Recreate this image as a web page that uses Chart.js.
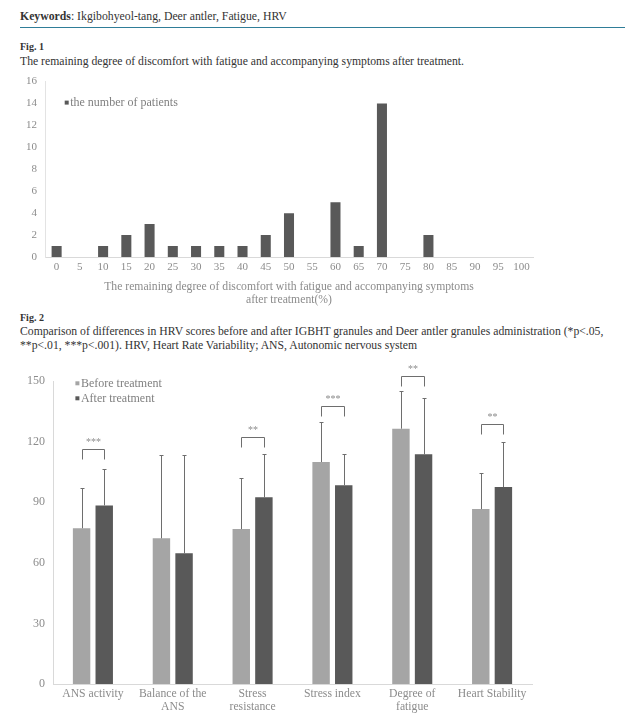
<!DOCTYPE html>
<html>
<head>
<meta charset="utf-8">
<script src="https://cdn.jsdelivr.net/npm/chart.js@4.4.0/dist/chart.umd.min.js"></script>
<style>
    body { margin: 0; width: 625px; height: 721px; background: #fff; position: relative; overflow: hidden; font-family: "Liberation Serif", serif; color: #333; }
    .txt { position: absolute; left: 20px; white-space: nowrap; line-height: 14px; }
    .kw { top: 10px; font-size: 11.75px; }
    .figno { font-size: 10px; font-weight: bold; }
    .cap { font-size: 11.7px; }
    .rule { position: absolute; left: 20px; right: 0; top: 27px; border-top: 1.5px solid #2f7d98; }
    .chartbox { position: absolute; left: 0; }
</style>
</head>
<body>

<div class="txt kw"><b>Keywords</b>: Ikgibohyeol-tang, Deer antler, Fatigue, HRV</div>
<div class="rule"></div>
<div class="txt figno" style="top:40px">Fig. 1</div>
<div class="txt cap" style="top:55px">The remaining degree of discomfort with fatigue and accompanying symptoms after treatment.</div>

<div class="chartbox" style="top:67px"><canvas id="patientsChart" width="625" height="243"></canvas></div>

<div class="txt figno" style="top:311px">Fig. 2</div>
<div class="txt cap" style="top:325px">Comparison of differences in HRV scores before and after IGBHT granules and Deer antler granules administration (*p&lt;.05,</div>
<div class="txt cap" style="top:339px">**p&lt;.01, ***p&lt;.001). HRV, Heart Rate Variability; ANS, Autonomic nervous system</div>

<div class="chartbox" style="top:360px"><canvas id="hrvChart" width="625" height="361"></canvas></div>

<script>
/* FIG 1 DATA */
const pctLabels = ['0', '5', '10', '15', '20', '25', '30', '35', '40', '45', '50', '55', '60', '65', '70', '75', '80', '85', '90', '95', '100'];
const patientCounts = [1, 0, 1, 2, 3, 1, 1, 1, 1, 2, 4, 0, 5, 1, 14, 0, 2, 0, 0, 0, 0];

/* FIG 2 DATA */
const hrvLabels = ['ANS activity', ['Balance of the', 'ANS'], ['Stress', 'resistance'], 'Stress index', ['Degree of', 'fatigue'], 'Heart Stability'];
const beforeScores = [77.1, 72.1, 76.7, 109.9, 126.4, 86.6];
const afterScores = [88.4, 64.7, 92.4, 98.4, 113.7, 97.5];
const beforeSD = [19.8, 41.1, 25.1, 19.6, 18.5, 18.0];
const afterSD = [17.9, 48.5, 21.3, 15.6, 27.7, 22.4];
const sigMarks = ['***', '', '**', '***', '**', '**'];
const sigHeights = [116.2, null, 122.4, 137.8, 152.6, 128.6]; // bracket top, in score units

const tickColor = '#8c8c8c';
const axisColor = '#d9d9d9';
const serif = '"Liberation Serif", serif';

// legend drawn inside the plot area, from the dataset labels/colors
const insideLegend = {
    id: 'insideLegend',
    afterDraw(chart, args, opts) {
        const ctx = chart.ctx;
        const area = chart.chartArea;
        ctx.save();
        ctx.font = opts.fontSize + 'px ' + serif;
        ctx.textBaseline = 'middle';
        chart.data.datasets.forEach((ds, i) => {
            const cx = area.left + opts.x;
            const cy = area.top + opts.y + i * opts.gap;
            ctx.fillStyle = ds.backgroundColor;
            ctx.fillRect(cx - opts.box / 2, cy - opts.box / 2, opts.box, opts.box);
            ctx.fillStyle = '#7f7f7f';
            ctx.fillText(ds.label, cx + opts.box / 2 + 1.5, cy + 0.5);
        });
        ctx.restore();
    }
};

// one-sided error bars (mean + SD)
const errorBars = {
    id: 'errorBars',
    afterDatasetsDraw(chart) {
        const ctx = chart.ctx;
        const yScale = chart.scales.y;
        const sds = [beforeSD, afterSD];
        ctx.save();
        ctx.strokeStyle = '#6e6e6e';
        ctx.lineWidth = 1;
        chart.data.datasets.forEach((ds, i) => {
            chart.getDatasetMeta(i).data.forEach((bar, j) => {
                const x = Math.round(bar.x) + 0.5;
                const top = Math.round(yScale.getPixelForValue(ds.data[j] + sds[i][j])) + 0.5;
                ctx.beginPath();
                ctx.moveTo(x, bar.y);
                ctx.lineTo(x, top);
                ctx.moveTo(x - 2, top);
                ctx.lineTo(x + 2, top);
                ctx.stroke();
            });
        });
        ctx.restore();
    }
};

// significance brackets with stars
const sigBrackets = {
    id: 'sigBrackets',
    afterDraw(chart) {
        const ctx = chart.ctx;
        const yScale = chart.scales.y;
        const before = chart.getDatasetMeta(0).data;
        const after = chart.getDatasetMeta(1).data;
        ctx.save();
        ctx.strokeStyle = '#6e6e6e';
        ctx.fillStyle = '#8c8c8c';
        ctx.lineWidth = 1;
        ctx.font = '10px ' + serif;
        ctx.textAlign = 'center';
        ctx.textBaseline = 'middle';
        sigMarks.forEach((mark, j) => {
            if (!mark) return;
            const x1 = Math.round(before[j].x) + 0.5;
            const x2 = Math.round(after[j].x) + 0.5;
            const top = Math.round(yScale.getPixelForValue(sigHeights[j])) + 0.5;
            ctx.beginPath();
            ctx.moveTo(x1, top + 10);
            ctx.lineTo(x1, top);
            ctx.lineTo(x2, top);
            ctx.lineTo(x2, top + 10);
            ctx.stroke();
            ctx.fillText(mark, (x1 + x2) / 2, top - 7);
        });
        ctx.restore();
    }
};

/* FIG 1 CHART */
function initPatientsChart() {
    const ctx = document.getElementById('patientsChart').getContext('2d');
    new Chart(ctx, {
        type: 'bar',
        data: {
            labels: pctLabels,
            datasets: [{
                label: 'the number of patients',
                data: patientCounts,
                backgroundColor: '#595959',
                barPercentage: 0.9,
                categoryPercentage: 0.48,
            }]
        },
        options: {
            responsive: false,
            animation: false,
            layout: { padding: { top: 0, right: 92, left: 0, bottom: 0 } },
            plugins: {
                legend: { display: false },
                tooltip: { enabled: false },
                insideLegend: { x: 21.7, y: 21, gap: 15, box: 4, fontSize: 12 },
            },
            scales: {
                x: {
                    grid: { display: false, drawTicks: false },
                    border: { display: true, color: axisColor },
                    ticks: { color: tickColor, font: { family: serif, size: 11 }, padding: 4, autoSkip: false, maxRotation: 0 },
                    title: {
                        display: true,
                        text: ['The remaining degree of discomfort with fatigue and accompanying symptoms', 'after treatment(%)'],
                        color: tickColor,
                        font: { family: serif, size: 11.7, lineHeight: 1.13 },
                        padding: { top: 0, bottom: 3 },
                    },
                    afterFit(scale) { scale.height = 53; },
                },
                y: {
                    min: 0,
                    max: 16,
                    grid: { display: false, drawTicks: false },
                    border: { display: true, color: '#e3e3e3' },
                    ticks: { stepSize: 2, color: tickColor, font: { family: serif, size: 11 }, padding: 8 },
                    afterFit(scale) { scale.width = 45; },
                },
            },
        },
        plugins: [insideLegend],
    });
}

/* FIG 2 CHART */
function initHrvChart() {
    const ctx = document.getElementById('hrvChart').getContext('2d');
    new Chart(ctx, {
        type: 'bar',
        data: {
            labels: hrvLabels,
            datasets: [{
                label: 'Before treatment',
                data: beforeScores,
                backgroundColor: '#a5a5a5',
            }, {
                label: 'After treatment',
                data: afterScores,
                backgroundColor: '#595959',
            }]
        },
        options: {
            responsive: false,
            animation: false,
            datasets: { bar: { barPercentage: 0.77, categoryPercentage: 0.567 } },
            layout: { padding: { top: 21, right: 93, left: 0, bottom: 0 } },
            plugins: {
                legend: { display: false },
                tooltip: { enabled: false },
                insideLegend: { x: 24.4, y: 2.3, gap: 15, box: 4, fontSize: 12 },
            },
            scales: {
                x: {
                    grid: { display: false, drawTicks: false },
                    border: { display: true, color: axisColor },
                    ticks: { color: tickColor, font: { family: serif, size: 11.7, lineHeight: 1.08 }, padding: 4, autoSkip: false, maxRotation: 0 },
                    afterFit(scale) { scale.height = 37; },
                },
                y: {
                    min: 0,
                    max: 150,
                    grid: { display: false, drawTicks: false },
                    border: { display: true, color: axisColor },
                    ticks: { stepSize: 30, color: tickColor, font: { family: serif, size: 12 }, padding: 8 },
                    afterFit(scale) { scale.width = 53; },
                },
            },
        },
        plugins: [insideLegend, errorBars, sigBrackets],
    });
}

document.addEventListener('DOMContentLoaded', function () {
    initPatientsChart();
    initHrvChart();
});
</script>
</body>
</html>
